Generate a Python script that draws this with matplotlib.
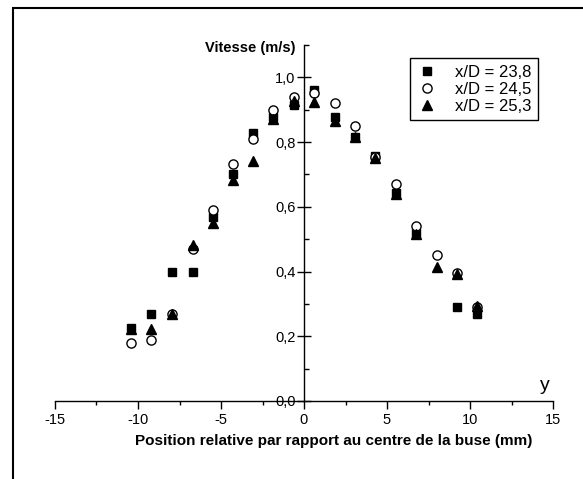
import numpy as np
import matplotlib
matplotlib.use("Agg")
import matplotlib.pyplot as plt
from matplotlib.ticker import MultipleLocator, FuncFormatter
from matplotlib.patches import Rectangle

plt.rcParams['font.family'] = ['Liberation Sans', 'DejaVu Sans']

# Data
positions = [-10.4, -9.2, -7.95, -6.7, -5.5, -4.25, -3.05, -1.85, -0.6,
             0.6, 1.85, 3.1, 4.3, 5.55, 6.75, 8.0, 9.2, 10.45]
v_238 = [0.227, 0.27, 0.40, 0.40, 0.57, 0.70, 0.829, 0.878, 0.916,
         0.961, 0.878, 0.816, 0.758, 0.643, 0.519, np.nan, 0.29, 0.27]
v_245 = [0.18, 0.19, 0.27, 0.47, 0.59, 0.731, 0.81, 0.899, 0.94,
         0.952, 0.92, 0.851, 0.753, 0.671, 0.54, 0.45, 0.397, 0.29]
v_253 = [0.224, 0.222, 0.27, 0.481, 0.551, 0.682, 0.742, 0.872, 0.927,
         0.924, 0.865, 0.815, 0.75, 0.64, 0.515, 0.415, 0.393, 0.292]
labels = ["x/D = 23,8", "x/D = 24,5", "x/D = 25,3"]

W, H = 583, 479
fig = plt.figure(figsize=(W / 100, H / 100), dpi=100)
ax = fig.add_axes([55 / W, 1 - 401 / H, (553 - 55) / W, (401 - 45) / H])

ax.plot(positions, v_238, linestyle='none', marker='s', markersize=6.2,
        color='black', zorder=3, label=labels[0])
ax.plot(positions, v_245, linestyle='none', marker='o', markersize=6.6,
        markerfacecolor='white', markeredgecolor='black', markeredgewidth=1.0,
        zorder=4, label=labels[1])
ax.plot(positions, v_253, linestyle='none', marker='^', markersize=7.2,
        color='black', zorder=5, label=labels[2])

ax.set_xlim(-15, 15)
ax.set_ylim(0, 1.1)
ax.spines['top'].set_visible(False)
ax.spines['right'].set_visible(False)
ax.spines['left'].set_position(('data', 0))
ax.spines['left'].set_linewidth(1.0)
ax.spines['bottom'].set_linewidth(1.0)

ax.xaxis.set_major_locator(MultipleLocator(5))
ax.xaxis.set_minor_locator(MultipleLocator(2.5))
ax.yaxis.set_major_locator(MultipleLocator(0.2))
ax.yaxis.set_minor_locator(MultipleLocator(0.1))
ax.yaxis.set_major_formatter(FuncFormatter(lambda v, p: f"{v:.1f}".replace('.', ',')))
ax.xaxis.set_major_formatter(FuncFormatter(lambda v, p: f"{v:.0f}"))

ax.tick_params(axis='x', which='major', direction='out', length=6, width=1,
               labelsize=10.5, pad=3)
ax.tick_params(axis='x', which='minor', direction='out', length=3, width=1)
ax.tick_params(axis='y', which='major', direction='inout', length=10, width=1,
               labelsize=10.5, pad=1)
ax.tick_params(axis='y', which='minor', direction='in', length=3.5, width=1)

fig.text(295 / W, 1 - 48 / H, "Vitesse (m/s)", ha='right', va='center',
         fontsize=10.5, fontweight='bold')
fig.text(334 / W, 1 - 441 / H, "Position relative par rapport au centre de la buse (mm)",
         ha='center', va='center', fontsize=11, fontweight='bold')
fig.text(545 / W, 1 - 386 / H, "y", ha='center', va='center', fontsize=14)

leg = ax.legend(loc='upper left', bbox_to_anchor=(410 / W, 1 - 58 / H),
                bbox_transform=fig.transFigure, fontsize=12, frameon=True,
                fancybox=False, edgecolor='black', framealpha=1,
                borderpad=0.4, labelspacing=0.12, handlelength=1.2,
                handletextpad=1.1, borderaxespad=0)
leg.get_frame().set_linewidth(1.0)

fig.patches.append(Rectangle((13 / W, -0.05), 1.2, 1 - 8 / H + 0.05,
                             transform=fig.transFigure, fill=False,
                             edgecolor='black', linewidth=1.5))

fig.savefig("out.png", dpi=100)
